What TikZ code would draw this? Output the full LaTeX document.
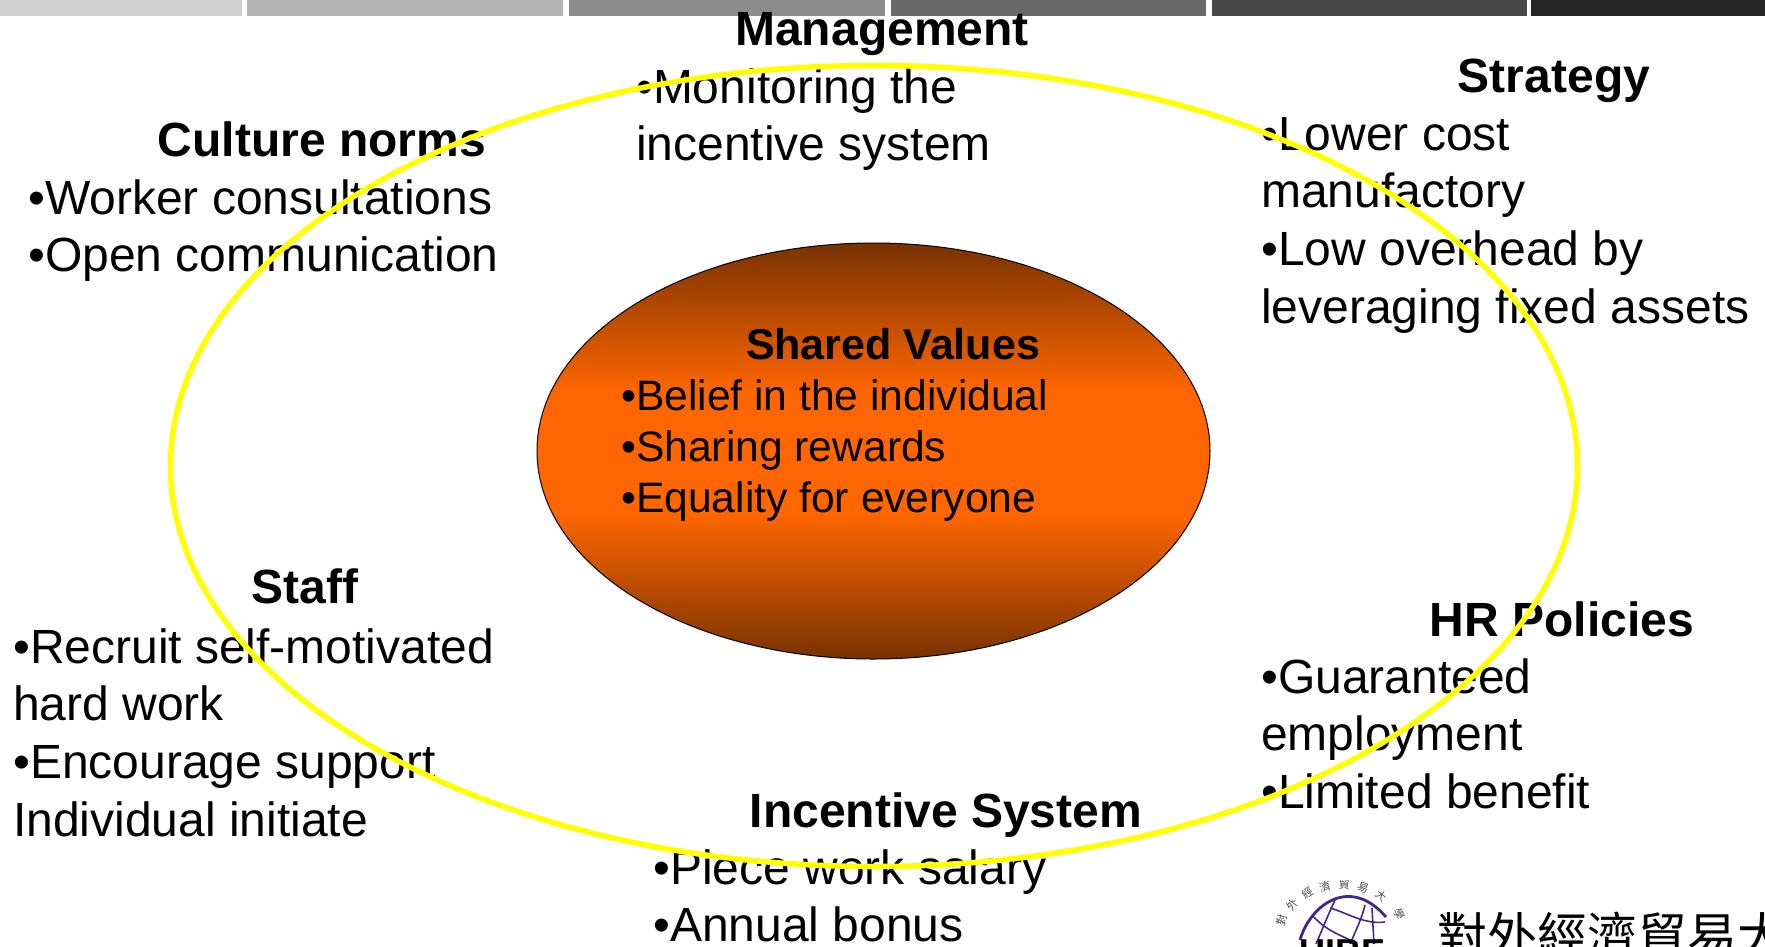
\documentclass[tikz,border=0pt]{standalone}
\usepackage{fontspec}
\setmainfont{Liberation Sans}
\newfontfamily\cjkfont{Noto Sans CJK TC}
\newcommand{\bodyblock}[1]{\vtop{\baselineskip=57.7pt\lineskip=0pt\lineskiplimit=-200pt #1}}
\newcommand{\valueblock}[1]{\vtop{\baselineskip=51pt\lineskip=0pt\lineskiplimit=-200pt #1}}
\definecolor{coreedge}{HTML}{783200}
\definecolor{corebright}{HTML}{FF6600}
\definecolor{ringyellow}{HTML}{FFFF00}
\definecolor{logoblue}{HTML}{3A2A90}
\pgfdeclareverticalshading{coreshade}{100bp}{
  color(0bp)=(coreedge); color(25bp)=(coreedge); color(42.5bp)=(corebright);
  color(57bp)=(corebright); color(75bp)=(coreedge); color(100bp)=(coreedge)}
\tikzset{
  x=1pt,y=-1pt,
  barstyle/.style={draw=none},
  heading/.style={inner sep=0pt,anchor=base,font=\fontsize{48}{57.7}\selectfont\bfseries,text=black},
  bodytext/.style={inner sep=0pt,anchor=base west,font=\fontsize{48}{57.7}\selectfont,text=black},
  coreheading/.style={inner sep=0pt,anchor=base,font=\fontsize{43}{51}\selectfont\bfseries,text=black},
  coretext/.style={inner sep=0pt,anchor=base west,font=\fontsize{42.6}{51}\selectfont,text=black},
  ring/.style={draw=ringyellow,line width=5.5pt},
  logoline/.style={draw=logoblue,line width=1.6pt},
}
\begin{document}
\begin{tikzpicture}
\useasboundingbox (0,0) rectangle (1765,946);
\fill[white] (0,0) rectangle (1765,946);
% header bars
\fill[barstyle,fill=black!18] (0,0) rectangle (242,16);
\fill[barstyle,fill=black!29] (247,0) rectangle (563,16);
\fill[barstyle,fill=black!45] (569,0) rectangle (885,16);
\fill[barstyle,fill=black!59] (891,0) rectangle (1206,16);
\fill[barstyle,fill=black!72] (1212,0) rectangle (1527,16);
\fill[barstyle,fill=black!85] (1531,0) rectangle (1765,16);
% core
\path[shading=coreshade,draw=black,line width=1pt] (873.5,451) ellipse [x radius=336.5,y radius=208];
% texts
\node[heading] (mgmt) at (882,45) {Management};
\node[bodytext] (mgmtlist) at (636,103) {\bodyblock{\hbox{•Monitoring the}\hbox{incentive system}}};
\node[heading] (culture) at (322,156) {Culture norms};
\node[bodytext] (culturelist) at (28,214) {\bodyblock{\hbox{•Worker consultations}\hbox{•Open communication}}};
\node[heading] (strategy) at (1554,92) {Strategy};
\node[bodytext] (strategylist) at (1261,150) {\bodyblock{\hbox{•Lower cost}\hbox{manufactory}\hbox{•Low overhead by}\hbox{leveraging fixed assets}}};
\node[heading] (staff) at (305,603) {Staff};
\node[bodytext] (stafflist) at (13,663) {\bodyblock{\hbox{•Recruit self-motivated}\hbox{hard work}\hbox{•Encourage support}\hbox{Individual initiate}}};
\node[heading] (hr) at (1562,636) {HR Policies};
\node[bodytext] (hrlist) at (1261,693) {\bodyblock{\hbox{•Guaranteed}\hbox{employment}\hbox{•Limited benefit}}};
\node[heading] (incentive) at (946,827) {Incentive System};
\node[bodytext] (incentivelist) at (653,884) {\bodyblock{\hbox{•Piece work salary}\hbox{•Annual bonus}}};
\node[coreheading] (shared) at (893,359) {Shared Values};
\node[coretext] (sharedlist) at (621,410) {\valueblock{\hbox{•Belief in the individual}\hbox{•Sharing rewards}\hbox{•Equality for everyone}}};
% ring
\draw[ring] (874,466) ellipse [x radius=703.5,y radius=400.5];
% logo
\begin{scope}
\clip (1270,880) rectangle (1765,946);
\draw[logoblue,line width=2.8pt] (1300,940) .. controls (1310,905) and (1350,875) .. (1386,917);
\draw[logoline] (1312,915) .. controls (1325,930) and (1340,935) .. (1350,940);
\draw[logoline] (1330,908) .. controls (1345,912) and (1365,925) .. (1385,922);
\draw[logoline] (1335,900) .. controls (1328,915) and (1322,930) .. (1316,944);
\draw[logoline] (1365,905) .. controls (1362,918) and (1356,930) .. (1350,944);
\draw[logoline] (1372,908) -- (1374,944);
\node[inner sep=0pt,anchor=north,font=\fontsize{36}{36}\selectfont\bfseries] (logomark) at (1342,940) {UIBE};
\foreach \ang/\ch [count=\i] in {165/對,144/外,124/經,106/濟,88/貿,70/易,50/大,22/學}{
  \node[inner sep=0pt,text=black!70,rotate=\ang-90,font=\fontsize{11}{11}\selectfont\cjkfont] (seal\i) at ({1342+62*cos(\ang)},{932-47*sin(\ang)}) {\ch};
}
\node[inner sep=0pt,anchor=base west,font=\fontsize{50}{50}\selectfont\cjkfont] (logotext) at (1437,954) {對外經濟貿易大學};
\end{scope}
\end{tikzpicture}
\end{document}
